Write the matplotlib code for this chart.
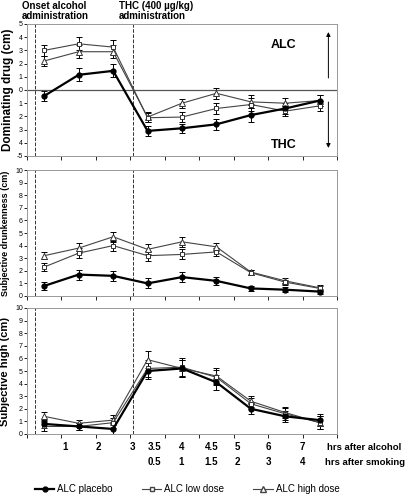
import matplotlib
matplotlib.use("Agg")
import matplotlib.pyplot as plt
import numpy as np

# ── Data (9 measurement points) ──────────────────────────────────────────────
x = np.arange(9) + 0.5

dom_placebo = [-0.45, 1.15, 1.45, -3.1, -2.9, -2.6, -1.9, -1.4, -0.8]
dom_low     = [3.0, 3.5, 3.25, -2.1, -2.05, -1.4, -1.1, -1.6, -1.2]
dom_high    = [2.2, 2.9, 2.9, -2.05, -1.0, -0.25, -0.9, -1.0, -0.8]
dom_err     = [0.4, 0.5, 0.5, 0.35, 0.35, 0.4, 0.5, 0.4, 0.4]

drunk_placebo = [0.8, 1.7, 1.6, 1.0, 1.5, 1.2, 0.6, 0.5, 0.35]
drunk_low     = [2.3, 3.4, 4.0, 3.2, 3.3, 3.5, 1.85, 1.1, 0.6]
drunk_high    = [3.2, 3.8, 4.7, 3.7, 4.3, 3.9, 1.9, 1.2, 0.65]
drunk_err     = [0.3, 0.4, 0.4, 0.4, 0.4, 0.3, 0.2, 0.2, 0.2]

high_placebo = [0.8, 0.6, 0.4, 5.0, 5.2, 4.1, 2.0, 1.4, 1.1]
high_low     = [0.6, 0.6, 0.9, 5.2, 5.3, 4.5, 2.4, 1.6, 0.9]
high_high    = [1.4, 0.85, 1.1, 5.9, 5.2, 4.6, 2.6, 1.7, 0.9]
high_err     = [0.35, 0.3, 0.4, 0.65, 0.7, 0.6, 0.45, 0.45, 0.5]

alc_ticks = ["1", "2", "3", "3.5", "4", "4.5", "5", "6", "7"]
alc_pos   = [1.1, 2.06, 3.05, 3.7, 4.48, 5.35, 6.1, 7.0, 8.0]
smk_ticks = ["0.5", "1", "1.5", "2", "3", "4"]
smk_pos   = [3.7, 4.48, 5.35, 6.1, 7.0, 8.0]

plt.rcParams["font.family"] = ["Liberation Sans", "DejaVu Sans"]

fig = plt.figure(figsize=(4.16, 4.98), dpi=100)
W, H = 416, 498
def box(l, t, r, b):
    return [l / W, 1 - b / H, (r - l) / W, (b - t) / H]

ax1 = fig.add_axes(box(27, 24, 337, 156))
ax2 = fig.add_axes(box(27, 170, 337, 296))
ax3 = fig.add_axes(box(27, 308, 337, 434))

def draw(ax, p, lo, hi, err):
    kw = dict(capsize=2, elinewidth=0.7, capthick=0.7, ecolor="black")
    ax.errorbar(x, hi, yerr=err, color="#444", lw=0.8, marker="^", ms=4,
                mfc="white", mec="#333", mew=0.7, **kw)
    ax.errorbar(x, lo, yerr=err, color="#444", lw=0.8, marker="s", ms=3.5,
                mfc="white", mec="#333", mew=0.7, **kw)
    ax.errorbar(x, p, yerr=err, color="black", lw=1.6, marker="o", ms=3.5,
                mfc="black", mec="black", **kw)
    ax.set_xlim(0, 9)
    ax.set_xticks(np.arange(10))
    ax.set_xticklabels([])
    ax.tick_params(axis="x", length=3, direction="out", width=0.6)
    ax.tick_params(axis="y", labelsize=5, length=2, width=0.6, pad=1)
    for s in ax.spines.values():
        s.set_color("#999")
        s.set_linewidth(0.7)
    for xd in (0.23, 3.08):
        ax.axvline(xd, color="#333", ls="--", lw=0.7)

draw(ax1, dom_placebo, dom_low, dom_high, dom_err)
ax1.set_ylim(-5, 5)
ax1.set_yticks(range(-5, 6))
ax1.set_yticklabels(["-5", "4", "3", "2", "1", "0", "1", "2", "3", "4", "5"])
ax1.axhline(0, color="#555", lw=0.9)
ax1.set_ylabel("Dominating drug (cm)", fontsize=8.5, fontweight="bold", labelpad=2)
ax1.text(7.45, 3.4, "ALC", fontsize=9, fontweight="bold", ha="center", va="center")
ax1.text(7.45, -4.2, "THC", fontsize=9, fontweight="bold", ha="center", va="center")
ax1.annotate("", xy=(8.75, 4.6), xytext=(8.75, 0.7),
             arrowprops=dict(arrowstyle="-|>", lw=0.7, color="black", mutation_scale=6))
ax1.annotate("", xy=(8.75, -4.6), xytext=(8.75, -0.7),
             arrowprops=dict(arrowstyle="-|>", lw=0.7, color="black", mutation_scale=6))
fig.text(22 / W, 1 - 11 / H, "Onset alcohol\nadministration", fontsize=7,
         fontweight="bold", va="center", linespacing=1.0)
fig.text(119 / W, 1 - 11 / H, "THC (400 µg/kg)\nadministration", fontsize=7,
         fontweight="bold", va="center", linespacing=1.0)

draw(ax2, drunk_placebo, drunk_low, drunk_high, drunk_err)
ax2.set_ylim(0, 10)
ax2.set_yticks(range(11))
ax2.set_ylabel("Subjective drunkenness (cm)", fontsize=6.5, fontweight="bold", labelpad=4)

draw(ax3, high_placebo, high_low, high_high, high_err)
ax3.set_ylim(0, 10)
ax3.set_yticks(range(11))
ax3.set_ylabel("Subjective high (cm)", fontsize=8, fontweight="bold", labelpad=4)

tr = ax3.get_xaxis_transform()
for pos, lab in zip(alc_pos, alc_ticks):
    ax3.text(pos, -0.1, lab, transform=tr, fontsize=7, fontweight="bold", ha="center", va="center")
for pos, lab in zip(smk_pos, smk_ticks):
    ax3.text(pos, -0.22, lab, transform=tr, fontsize=7, fontweight="bold", ha="center", va="center")
fig.text(327 / W, 1 - 447 / H, "hrs after alcohol", fontsize=6.8, fontweight="bold", va="center")
fig.text(325 / W, 1 - 462 / H, "hrs after smoking", fontsize=6.8, fontweight="bold", va="center")

handles = [
    plt.Line2D([], [], color="black", lw=1.6, marker="o", ms=3.5),
    plt.Line2D([], [], color="#444", lw=0.8, marker="s", ms=3.5, mfc="white"),
    plt.Line2D([], [], color="#444", lw=0.8, marker="^", ms=4, mfc="white"),
]
fig.legend(handles, ["ALC placebo", "ALC low dose", "ALC high dose"],
           loc="center", bbox_to_anchor=(0.45, 1 - 489 / H), ncol=3, frameon=False,
           fontsize=7, handlelength=2, columnspacing=3, handletextpad=0.3)

fig.savefig("out.png", dpi=100)
